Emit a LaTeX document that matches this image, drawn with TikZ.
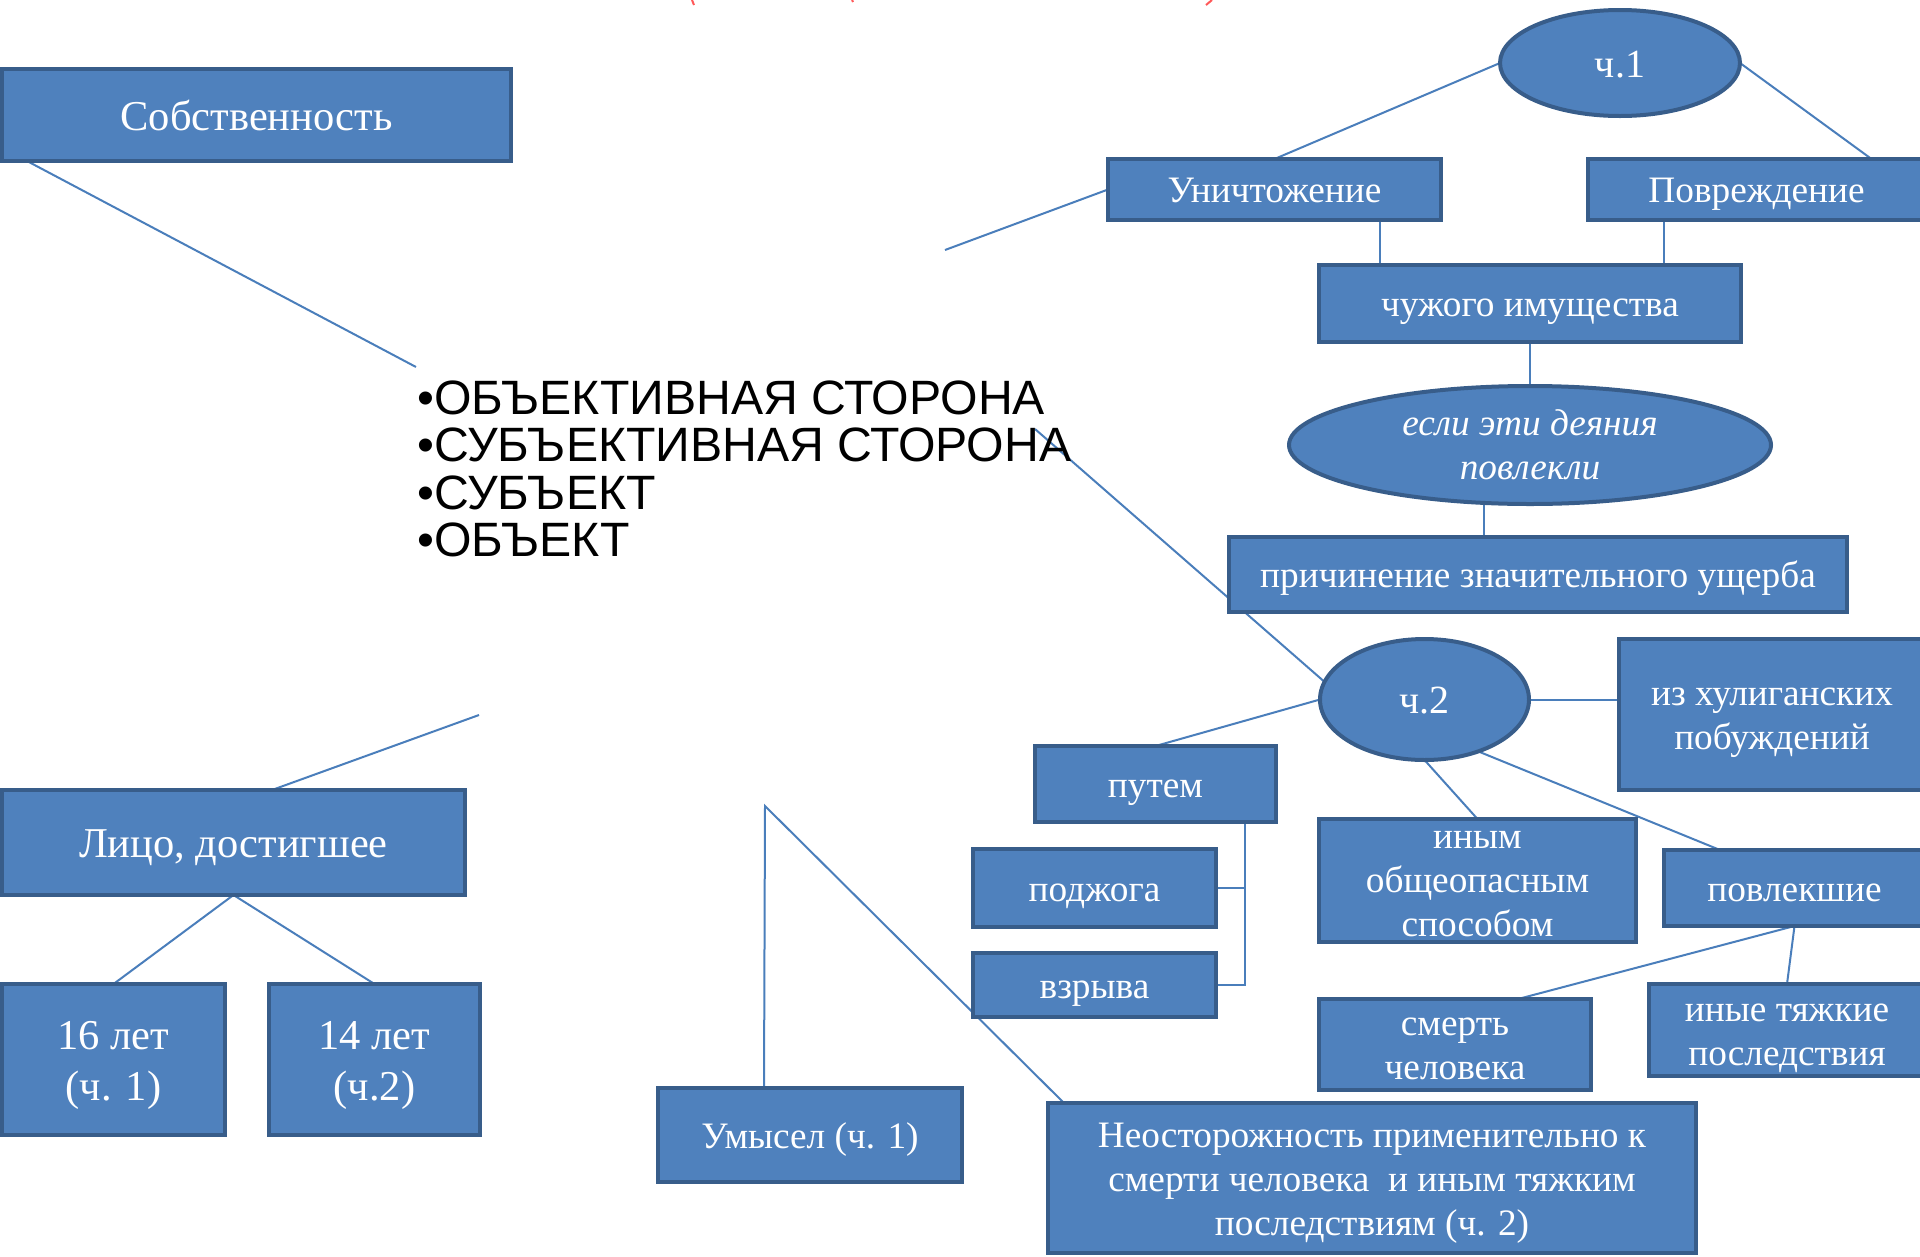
\documentclass[tikz,border=0pt]{standalone}
\usepackage{fontspec}
\setmainfont{Liberation Serif}
\newfontfamily\bulletfont{Liberation Sans}
\usetikzlibrary{shapes.geometric}
\definecolor{boxfill}{HTML}{4F81BD}
\definecolor{boxedge}{HTML}{385D8A}
\definecolor{linkc}{HTML}{4A7EBB}
\pgfdeclarelayer{back}
\pgfdeclarelayer{links}
\pgfsetlayers{back,links,main}
\newcommand{\mystrut}{\rule[-0.2\baselineskip]{0pt}{\baselineskip}}
\begin{document}
\begin{tikzpicture}[x=1pt,y=-1pt,
  box/.style={draw=boxedge, line width=4pt, fill=boxfill, text=white, inner sep=0pt, outer sep=0pt, align=center, font=\fontsize{37.3}{44}\selectfont},
  bigbox/.style={box, font=\fontsize{42.5}{51}\selectfont},
  oval/.style={box, ellipse},
  link/.style={draw=linkc, line width=2pt},
  bulletline/.style={anchor=base west, inner sep=0pt, font=\bulletfont\fontsize{48.2}{48}\selectfont},
  redmark/.style={draw=red!65, line width=2pt}]

\begin{pgfonlayer}{back}
\fill[white] (0,0) rectangle (1920,1256);
\end{pgfonlayer}
\path[use as bounding box] (0,0) rectangle (1920,1256);

% left column
\node[bigbox, minimum width=509pt, minimum height=92pt] (sob) at (256.5,115) {\mystrut Собственность};
\node[bigbox, minimum width=463pt, minimum height=105pt] (lico) at (233.5,842.5) {\mystrut Лицо, достигшее};
\node[bigbox, minimum width=223pt, minimum height=151pt] (l16) at (113.5,1059.5) {\mystrut 16 лет\\(ч. 1)\mystrut};
\node[bigbox, minimum width=211pt, minimum height=151pt] (l14) at (374.5,1059.5) {\mystrut 14 лет\\(ч.2)\mystrut};

% bullet list
\node[bulletline] (b1) at (417,414) {•ОБЪЕКТИВНАЯ СТОРОНА};
\node[bulletline] (b2) at (417,461.5) {•СУБЪЕКТИВНАЯ СТОРОНА};
\node[bulletline] (b3) at (417,509) {•СУБЪЕКТ};
\node[bulletline] (b4) at (417,556.5) {•ОБЪЕКТ};

% part 1
\node[oval, minimum width=240pt, minimum height=106pt, font=\fontsize{40}{48}\selectfont] (ch1) at (1620,63) {\mystrut ч.1};
\node[box, minimum width=333pt, minimum height=61pt] (unich) at (1274.5,189.5) {\mystrut Уничтожение};
\node[box, minimum width=337pt, minimum height=61pt] (povr) at (1756.5,189.5) {\mystrut Повреждение};
\node[box, minimum width=422pt, minimum height=77pt] (chuzh) at (1530,303.5) {\mystrut чужого имущества};
\node[oval, minimum width=482pt, minimum height=118pt, font=\itshape\fontsize{37.3}{44}\selectfont] (esli) at (1530,445) {если эти деяния\\повлекли};
\node[box, minimum width=618pt, minimum height=75pt] (prich) at (1538,574) {\mystrut причинение значительного ущерба};

% part 2
\node[oval, minimum width=209pt, minimum height=121pt, font=\fontsize{40}{48}\selectfont] (ch2) at (1424.5,699.5) {\mystrut ч.2};
\node[box, minimum width=306pt, minimum height=151pt] (hulig) at (1772,714.5) {\mystrut из хулиганских\\побуждений\mystrut};
\node[box, minimum width=241pt, minimum height=76pt] (putem) at (1155.5,784) {\mystrut путем};
\node[box, minimum width=243pt, minimum height=78pt] (podzh) at (1094.5,888) {\mystrut поджога};
\node[box, minimum width=243pt, minimum height=64pt] (vzr) at (1094.5,985) {\mystrut взрыва};
\node[box, minimum width=317pt, minimum height=123pt] (inym) at (1477.5,880.5) {\rule{0pt}{26pt}иным\\общеопасным\\способом\rule[-3pt]{0pt}{3pt}};
\node[box, minimum width=261pt, minimum height=76pt] (povl) at (1794.5,888) {\mystrut повлекшие};
\node[box, minimum width=272pt, minimum height=91pt] (smert) at (1455,1044.5) {\mystrut смерть\\человека\mystrut};
\node[box, minimum width=276pt, minimum height=92pt] (inye) at (1787,1030) {\mystrut иные тяжкие\\последствия\mystrut};

% subjective side
\node[box, minimum width=304pt, minimum height=94pt] (umysel) at (810,1135) {\mystrut Умысел (ч. 1)};
\node[box, minimum width=648pt, minimum height=150pt] (neost) at (1372,1178) {\mystrut Неосторожность применительно к\\смерти человека\ \ и иным тяжким\\последствиям (ч. 2)\mystrut};

% free ends and helper points
\coordinate (sobEnd) at (416,367);
\coordinate (unichEnd) at (945,250);
\coordinate (bulEnd) at (1035,429);
\coordinate (licoEnd) at (479,715);
\coordinate (apex) at (765,806);
\coordinate (u1) at ([xshift=105.5pt]unich.south);
\coordinate (p1) at ([xshift=-92.5pt]povr.south);
\coordinate (e1) at ([xshift=-46pt]esli.south);
\coordinate (pv) at ([xshift=89.5pt]putem.south);

\begin{pgfonlayer}{links}
\draw[link] ([xshift=25pt]sob.south west) -- (sobEnd);
\draw[link] ([xshift=38.5pt]lico.north) -- (licoEnd);
\draw[link] (lico.south) -- (l16.north);
\draw[link] (lico.south) -- (l14.north);
\draw[link] (ch1.west) -- (unich.north);
\draw[link] (ch1.east) -- ([xshift=115pt]povr.north);
\draw[link] (unich.west) -- (unichEnd);
\draw[link] (u1) -- (u1 |- chuzh.north);
\draw[link] (p1) -- (p1 |- chuzh.north);
\draw[link] (chuzh.south) -- (esli.north);
\draw[link] (e1) -- (e1 |- prich.north);
\draw[link] (bulEnd) -- (ch2.170);
\draw[link] (ch2.east) -- (ch2.east -| hulig.west);
\draw[link] (ch2.west) -- (putem.north);
\draw[link] (pv) |- (vzr.east);
\draw[link] (podzh.east) -- (podzh.east -| pv);
\draw[link] (ch2.south) -- (inym.north);
\draw[link] (ch2.-44) -- ([xshift=-74.5pt]povl.north);
\draw[link] (povl.south) -- ([xshift=63pt]smert.north);
\draw[link] (povl.south) -- (inye.north);
\draw[link] ([xshift=-46pt]umysel.north) -- (apex) -- ([xshift=16pt]neost.north west);
\draw[redmark] (692,0) -- (694,5);
\draw[redmark] (852,0) -- (853,2);
\draw[redmark] (1212,0) -- (1206,5);
\end{pgfonlayer}
\end{tikzpicture}
\end{document}
